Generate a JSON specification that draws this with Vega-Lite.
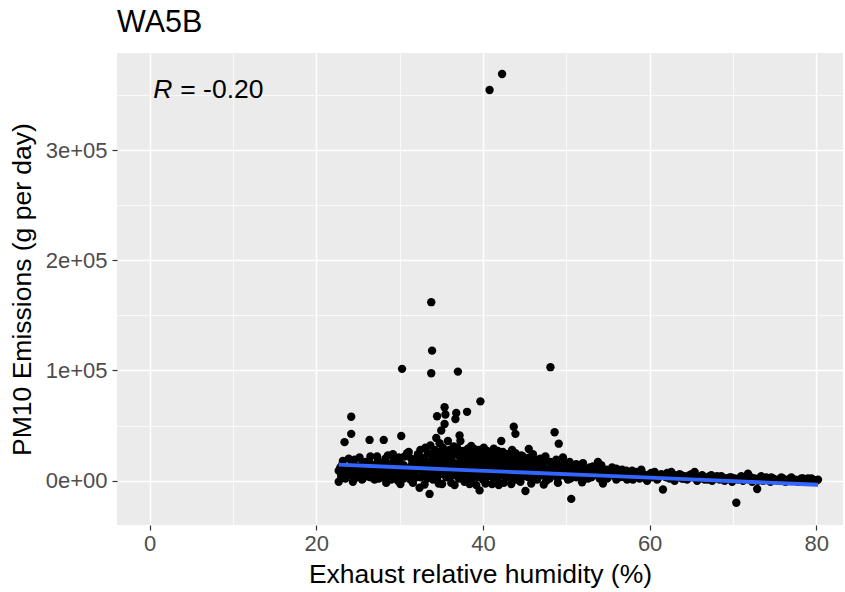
{
  "$schema": "https://vega.github.io/schema/vega-lite/v6.json",
  "autosize": "none",
  "width": 726,
  "height": 472,
  "padding": {"left": 117, "top": 53, "right": 2, "bottom": 67},
  "background": "white",
  "title": {"text": "WA5B", "anchor": "start", "frame": "group", "fontSize": 30.5, "font": "Liberation Sans", "fontWeight": "normal", "color": "#000000", "baseline": "bottom", "offset": 11, "dy": 26},
  "config": {
    "view": {"fill": "#EBEBEB", "stroke": null},
    "font": "Liberation Sans",
    "axis": {
      "domain": false,
      "gridColor": "#FFFFFF",
      "tickColor": "#333333",
      "tickWidth": 1.2,
      "tickSize": 5,
      "labelColor": "#4D4D4D",
      "labelFontSize": 22,
      "labelFont": "Liberation Sans",
      "titleFont": "Liberation Sans",
      "titleFontSize": 26.5,
      "titleFontWeight": "normal",
      "titleColor": "#000000"
    }
  },
  "datasets": {
    "pts": [
      {"h":22.7,"pm":9000},{"h":22.7,"pm":-1000},{"h":22.9,"pm":12000},{"h":23.1,"pm":14000},{"h":23.4,"pm":35000},{"h":23.5,"pm":8000},{"h":23.8,"pm":11000},{"h":24.0,"pm":5000},{"h":24.2,"pm":58000},{"h":24.2,"pm":42500},{"h":24.3,"pm":16000},{"h":24.4,"pm":-1000},{"h":24.5,"pm":7000},{"h":24.7,"pm":13000},{"h":24.9,"pm":3000},{"h":25.0,"pm":10000},{"h":25.3,"pm":6000},{"h":25.5,"pm":15000},{"h":25.6,"pm":2000},{"h":25.8,"pm":9000},{"h":26.0,"pm":12000},{"h":26.2,"pm":4000},{"h":26.4,"pm":37000},{"h":26.5,"pm":22000},{"h":26.7,"pm":8000},{"h":26.9,"pm":14000},{"h":27.0,"pm":1000},{"h":27.2,"pm":6000},{"h":27.4,"pm":18000},{"h":27.6,"pm":10000},{"h":27.8,"pm":3000},{"h":28.0,"pm":12000},{"h":28.1,"pm":37000},{"h":28.2,"pm":7000},{"h":28.3,"pm":20000},{"h":28.5,"pm":5000},{"h":28.7,"pm":15000},{"h":28.9,"pm":2000},{"h":29.0,"pm":9000},{"h":29.2,"pm":24000},{"h":29.4,"pm":6000},{"h":29.6,"pm":13000},{"h":29.8,"pm":0},{"h":30.0,"pm":17000},{"h":30.2,"pm":40600},{"h":30.3,"pm":101500},{"h":30.4,"pm":8000},{"h":30.6,"pm":22000},{"h":30.8,"pm":4000},{"h":31.0,"pm":11000},{"h":31.1,"pm":26000},{"h":31.3,"pm":1000},{"h":31.5,"pm":15000},{"h":31.7,"pm":7000},{"h":31.9,"pm":19000},{"h":32.0,"pm":3000},{"h":32.2,"pm":24000},{"h":32.3,"pm":10000},{"h":32.4,"pm":-6400},{"h":32.5,"pm":28000},{"h":32.7,"pm":14000},{"h":32.9,"pm":5000},{"h":33.0,"pm":20000},{"h":33.1,"pm":30000},{"h":33.2,"pm":9000},{"h":33.3,"pm":2000},{"h":33.4,"pm":25000},{"h":33.5,"pm":16000},{"h":33.6,"pm":-12000},{"h":33.6,"pm":7000},{"h":33.7,"pm":32000},{"h":33.8,"pm":162000},{"h":33.8,"pm":97500},{"h":33.9,"pm":118000},{"h":33.9,"pm":12000},{"h":34.0,"pm":22000},{"h":34.1,"pm":4000},{"h":34.2,"pm":28000},{"h":34.3,"pm":18000},{"h":34.4,"pm":38800},{"h":34.4,"pm":10000},{"h":34.5,"pm":58500},{"h":34.5,"pm":1000},{"h":34.6,"pm":26000},{"h":34.7,"pm":14000},{"h":34.8,"pm":34000},{"h":34.9,"pm":6000},{"h":35.0,"pm":45500},{"h":35.0,"pm":20000},{"h":35.1,"pm":-3000},{"h":35.2,"pm":30000},{"h":35.3,"pm":11000},{"h":35.4,"pm":66600},{"h":35.4,"pm":51500},{"h":35.5,"pm":60000},{"h":35.5,"pm":24000},{"h":35.6,"pm":3000},{"h":35.7,"pm":17000},{"h":35.8,"pm":36000},{"h":35.9,"pm":8000},{"h":36.0,"pm":28000},{"h":36.1,"pm":13000},{"h":36.2,"pm":-2000},{"h":36.3,"pm":22000},{"h":36.4,"pm":5000},{"h":36.5,"pm":31000},{"h":36.6,"pm":16000},{"h":36.7,"pm":56000},{"h":36.8,"pm":61500},{"h":36.8,"pm":9000},{"h":37.0,"pm":99000},{"h":37.0,"pm":25000},{"h":37.1,"pm":2000},{"h":37.2,"pm":41000},{"h":37.3,"pm":36000},{"h":37.3,"pm":14000},{"h":37.4,"pm":19000},{"h":37.5,"pm":7000},{"h":37.6,"pm":27000},{"h":37.7,"pm":11000},{"h":37.8,"pm":-1000},{"h":37.9,"pm":22000},{"h":38.0,"pm":4000},{"h":38.1,"pm":62500},{"h":38.1,"pm":17000},{"h":38.2,"pm":29000},{"h":38.3,"pm":8000},{"h":38.4,"pm":13000},{"h":38.5,"pm":24000},{"h":38.6,"pm":31500},{"h":38.6,"pm":1000},{"h":38.7,"pm":19000},{"h":38.8,"pm":6000},{"h":38.9,"pm":26000},{"h":39.0,"pm":10000},{"h":39.1,"pm":15000},{"h":39.2,"pm":-4000},{"h":39.3,"pm":21000},{"h":39.4,"pm":3000},{"h":39.5,"pm":28000},{"h":39.6,"pm":-8800},{"h":39.6,"pm":12000},{"h":39.7,"pm":72000},{"h":39.7,"pm":18000},{"h":39.8,"pm":6000},{"h":39.9,"pm":24000},{"h":40.0,"pm":9000},{"h":40.1,"pm":30000},{"h":40.2,"pm":14000},{"h":40.3,"pm":2000},{"h":40.4,"pm":20000},{"h":40.5,"pm":27000},{"h":40.6,"pm":7000},{"h":40.7,"pm":16000},{"h":40.8,"pm":354500},{"h":40.8,"pm":11000},{"h":40.9,"pm":23000},{"h":41.0,"pm":4000},{"h":41.1,"pm":-3000},{"h":41.2,"pm":19000},{"h":41.3,"pm":29000},{"h":41.4,"pm":8000},{"h":41.5,"pm":13000},{"h":41.6,"pm":25000},{"h":41.7,"pm":1000},{"h":41.8,"pm":17000},{"h":41.9,"pm":10000},{"h":42.0,"pm":22000},{"h":42.1,"pm":5000},{"h":42.2,"pm":36000},{"h":42.3,"pm":369000},{"h":42.3,"pm":14000},{"h":42.4,"pm":26000},{"h":42.5,"pm":-2000},{"h":42.6,"pm":9000},{"h":42.7,"pm":19000},{"h":42.8,"pm":3000},{"h":42.9,"pm":12000},{"h":43.0,"pm":24000},{"h":43.2,"pm":7000},{"h":43.3,"pm":16000},{"h":43.5,"pm":28000},{"h":43.6,"pm":2000},{"h":43.7,"pm":49000},{"h":43.8,"pm":11000},{"h":43.9,"pm":42500},{"h":44.0,"pm":20000},{"h":44.1,"pm":6000},{"h":44.3,"pm":15000},{"h":44.5,"pm":-1000},{"h":44.6,"pm":23000},{"h":44.8,"pm":9000},{"h":45.0,"pm":18000},{"h":45.1,"pm":-9400},{"h":45.2,"pm":4000},{"h":45.4,"pm":13000},{"h":45.5,"pm":28800},{"h":45.6,"pm":21000},{"h":45.8,"pm":7000},{"h":46.0,"pm":16000},{"h":46.2,"pm":2000},{"h":46.4,"pm":11000},{"h":46.6,"pm":19000},{"h":46.8,"pm":5000},{"h":47.0,"pm":14000},{"h":47.2,"pm":8000},{"h":47.5,"pm":18000},{"h":47.6,"pm":0},{"h":47.8,"pm":10000},{"h":48.0,"pm":4000},{"h":48.1,"pm":103000},{"h":48.2,"pm":13000},{"h":48.4,"pm":7000},{"h":48.6,"pm":44000},{"h":48.7,"pm":16000},{"h":48.9,"pm":3000},{"h":49.1,"pm":33600},{"h":49.1,"pm":9000},{"h":49.4,"pm":12000},{"h":49.6,"pm":5000},{"h":49.8,"pm":15000},{"h":50.0,"pm":8000},{"h":50.2,"pm":1000},{"h":50.4,"pm":11000},{"h":50.6,"pm":-16500},{"h":50.7,"pm":6000},{"h":51.0,"pm":13000},{"h":51.2,"pm":3000},{"h":51.5,"pm":9000},{"h":51.8,"pm":12000},{"h":52.0,"pm":5000},{"h":52.3,"pm":10000},{"h":52.6,"pm":2000},{"h":52.9,"pm":8000},{"h":53.2,"pm":13000},{"h":53.5,"pm":6000},{"h":53.8,"pm":17000},{"h":54.0,"pm":4000},{"h":54.3,"pm":11000},{"h":54.6,"pm":7000},{"h":54.9,"pm":2000},{"h":55.2,"pm":9000},{"h":55.5,"pm":12000},{"h":55.8,"pm":5000},{"h":56.1,"pm":8000},{"h":56.4,"pm":3000},{"h":56.7,"pm":10000},{"h":57.0,"pm":6000},{"h":57.3,"pm":1000},{"h":57.6,"pm":7000},{"h":57.9,"pm":9000},{"h":58.2,"pm":4000},{"h":58.5,"pm":6000},{"h":58.8,"pm":2000},{"h":59.1,"pm":7000},{"h":59.4,"pm":4000},{"h":59.7,"pm":0},{"h":60.0,"pm":6000},{"h":60.3,"pm":3000},{"h":60.6,"pm":8000},{"h":60.9,"pm":1000},{"h":61.2,"pm":5000},{"h":61.6,"pm":-8000},{"h":61.8,"pm":4000},{"h":62.1,"pm":7000},{"h":62.4,"pm":2000},{"h":62.7,"pm":5000},{"h":63.0,"pm":0},{"h":63.3,"pm":4000},{"h":63.6,"pm":6000},{"h":63.9,"pm":2000},{"h":64.2,"pm":4000},{"h":64.5,"pm":1000},{"h":64.8,"pm":5000},{"h":65.1,"pm":3000},{"h":65.4,"pm":8000},{"h":65.7,"pm":0},{"h":66.0,"pm":3000},{"h":66.3,"pm":5000},{"h":66.6,"pm":1000},{"h":66.9,"pm":3000},{"h":67.2,"pm":4000},{"h":67.5,"pm":0},{"h":67.8,"pm":2000},{"h":68.1,"pm":4000},{"h":68.4,"pm":1000},{"h":68.7,"pm":3000},{"h":69.0,"pm":0},{"h":69.3,"pm":2000},{"h":69.6,"pm":3000},{"h":69.9,"pm":-1000},{"h":70.2,"pm":2000},{"h":70.4,"pm":-20000},{"h":70.6,"pm":1000},{"h":70.9,"pm":3000},{"h":71.2,"pm":0},{"h":71.5,"pm":2000},{"h":71.8,"pm":6400},{"h":72.0,"pm":1000},{"h":72.3,"pm":-1000},{"h":72.6,"pm":2000},{"h":72.9,"pm":-7500},{"h":73.0,"pm":1000},{"h":73.3,"pm":3000},{"h":73.6,"pm":0},{"h":73.9,"pm":2000},{"h":74.2,"pm":1000},{"h":74.5,"pm":-1000},{"h":74.8,"pm":2000},{"h":75.1,"pm":1000},{"h":75.4,"pm":0},{"h":75.7,"pm":2000},{"h":76.0,"pm":1000},{"h":76.3,"pm":-1000},{"h":76.6,"pm":1000},{"h":76.9,"pm":2000},{"h":77.2,"pm":0},{"h":77.5,"pm":1000},{"h":77.8,"pm":-1000},{"h":78.1,"pm":1000},{"h":78.4,"pm":2000},{"h":78.7,"pm":0},{"h":79.0,"pm":1000},{"h":79.3,"pm":-1000},{"h":79.6,"pm":1000},{"h":79.9,"pm":0},{"h":80.2,"pm":1000},
      {"h":23.0,"pm":4000},{"h":23.5,"pm":2000},{"h":24.0,"pm":10000},{"h":24.5,"pm":3000},{"h":25.0,"pm":6000},{"h":25.5,"pm":1000},{"h":26.0,"pm":7000},{"h":26.5,"pm":3000},{"h":27.0,"pm":9000},{"h":27.5,"pm":2000},{"h":28.0,"pm":5000},{"h":28.5,"pm":9000},{"h":29.0,"pm":1000},{"h":29.5,"pm":4000},{"h":30.0,"pm":7000},{"h":30.5,"pm":2000},{"h":31.0,"pm":5000},{"h":31.5,"pm":9000},{"h":32.0,"pm":12000},{"h":32.5,"pm":3000},{"h":33.0,"pm":6000},{"h":33.5,"pm":11000},{"h":34.0,"pm":1000},{"h":34.5,"pm":5000},{"h":35.0,"pm":8000},{"h":35.5,"pm":13000},{"h":36.0,"pm":3000},{"h":36.5,"pm":7000},{"h":37.0,"pm":10000},{"h":37.5,"pm":2000},{"h":38.0,"pm":6000},{"h":38.5,"pm":11000},{"h":39.0,"pm":4000},{"h":39.5,"pm":8000},{"h":40.0,"pm":1000},{"h":40.5,"pm":5000},{"h":41.0,"pm":9000},{"h":41.5,"pm":3000},{"h":42.0,"pm":7000},{"h":42.5,"pm":12000},{"h":43.0,"pm":4000},{"h":43.5,"pm":8000},{"h":44.0,"pm":1000},{"h":44.5,"pm":5000},{"h":45.0,"pm":10000},{"h":45.5,"pm":3000},{"h":46.0,"pm":7000},{"h":46.5,"pm":1000},{"h":47.0,"pm":5000},{"h":47.5,"pm":9000},{"h":48.0,"pm":2000},{"h":48.5,"pm":6000},{"h":49.0,"pm":3000},{"h":49.5,"pm":8000},{"h":50.0,"pm":4000},{"h":50.5,"pm":2000},{"h":51.0,"pm":7000},{"h":51.5,"pm":4000},{"h":52.0,"pm":1000},{"h":52.5,"pm":6000},{"h":53.0,"pm":3000},{"h":53.5,"pm":9000},{"h":54.0,"pm":2000},{"h":54.5,"pm":5000},{"h":55.0,"pm":3000},{"h":55.5,"pm":6000},{"h":56.0,"pm":1000},{"h":56.5,"pm":4000},{"h":57.0,"pm":3000},{"h":57.5,"pm":5000},{"h":58.0,"pm":1000},{"h":58.5,"pm":3000},{"h":59.0,"pm":5000},{"h":59.5,"pm":2000},{"h":60.0,"pm":4000},{"h":61.0,"pm":2000},{"h":62.0,"pm":3000},{"h":63.0,"pm":5000},{"h":64.0,"pm":2000},{"h":65.0,"pm":4000},{"h":66.0,"pm":2000},{"h":67.0,"pm":1000},{"h":68.0,"pm":3000},{"h":69.0,"pm":2000},{"h":70.0,"pm":1000},{"h":71.0,"pm":3000},{"h":72.0,"pm":2000},{"h":73.0,"pm":0},{"h":74.0,"pm":3000},{"h":75.0,"pm":1000},{"h":76.0,"pm":2000},{"h":77.0,"pm":1000},{"h":78.0,"pm":0},{"h":79.0,"pm":2000},{"h":80.0,"pm":0},
      {"h":23.2,"pm":18000},{"h":23.9,"pm":20000},{"h":24.6,"pm":19000},{"h":25.2,"pm":21000},{"h":25.9,"pm":17000},{"h":26.6,"pm":15000},{"h":27.3,"pm":22000},{"h":27.9,"pm":16000},{"h":28.6,"pm":23000},{"h":29.3,"pm":18000},{"h":29.9,"pm":21000},{"h":30.5,"pm":14000},{"h":30.9,"pm":25000},{"h":31.4,"pm":20000},{"h":31.8,"pm":13000},{"h":32.1,"pm":17000},{"h":32.6,"pm":21000},{"h":32.8,"pm":9000},{"h":33.3,"pm":14000},{"h":33.9,"pm":19000},{"h":34.2,"pm":7000},{"h":34.6,"pm":22000},{"h":34.9,"pm":16000},{"h":35.2,"pm":26000},{"h":35.6,"pm":10000},{"h":35.9,"pm":21000},{"h":36.2,"pm":18000},{"h":36.4,"pm":25000},{"h":36.7,"pm":12000},{"h":36.9,"pm":30000},{"h":37.2,"pm":22000},{"h":37.5,"pm":16000},{"h":37.8,"pm":26000},{"h":38.1,"pm":10000},{"h":38.3,"pm":21000},{"h":38.6,"pm":15000},{"h":38.9,"pm":29000},{"h":39.2,"pm":19000},{"h":39.4,"pm":13000},{"h":39.7,"pm":25000},{"h":40.0,"pm":20000},{"h":40.2,"pm":27000},{"h":40.5,"pm":11000},{"h":40.7,"pm":23000},{"h":41.0,"pm":17000},{"h":41.3,"pm":21000},{"h":41.6,"pm":15000},{"h":41.8,"pm":27000},{"h":42.1,"pm":18000},{"h":42.4,"pm":10000},{"h":42.7,"pm":24000},{"h":43.0,"pm":16000},{"h":43.3,"pm":21000},{"h":43.6,"pm":13000},{"h":43.9,"pm":25000},{"h":44.2,"pm":18000},{"h":44.5,"pm":11000},{"h":44.8,"pm":22000},{"h":45.1,"pm":15000},{"h":45.4,"pm":20000},{"h":45.7,"pm":12000},{"h":46.0,"pm":24000},{"h":46.3,"pm":17000},{"h":46.6,"pm":9000},{"h":46.9,"pm":20000},{"h":47.2,"pm":13000},{"h":47.5,"pm":22000},{"h":47.8,"pm":6000},{"h":48.1,"pm":17000},{"h":48.4,"pm":11000},{"h":48.8,"pm":19000},{"h":49.2,"pm":14000},{"h":49.6,"pm":21000},{"h":50.0,"pm":12000},{"h":50.4,"pm":17000},{"h":50.8,"pm":9000},{"h":51.2,"pm":15000},{"h":51.6,"pm":11000},{"h":52.0,"pm":16000},{"h":52.4,"pm":8000},{"h":52.8,"pm":12000},{"h":53.2,"pm":5000},{"h":53.6,"pm":11000},{"h":54.2,"pm":14000},{"h":54.8,"pm":10000},{"h":55.4,"pm":7000},{"h":56.0,"pm":11000},{"h":56.6,"pm":6000},{"h":57.2,"pm":9000},{"h":57.8,"pm":4000},{"h":58.4,"pm":8000},{"h":59.0,"pm":10000},{"h":59.6,"pm":5000},{"h":60.2,"pm":7000},{"h":61.4,"pm":6000},{"h":62.6,"pm":8000},{"h":63.8,"pm":5000},{"h":65.0,"pm":6000},{"h":66.2,"pm":4000},{"h":67.4,"pm":5000},{"h":68.6,"pm":4000},{"h":69.8,"pm":3000},{"h":71.0,"pm":4000},{"h":72.2,"pm":3000},{"h":73.4,"pm":4000},{"h":74.6,"pm":3000},{"h":75.8,"pm":3000},{"h":77.0,"pm":3000},{"h":78.2,"pm":2000},{"h":79.4,"pm":2000},
      {"h":28.4,"pm":-2000},{"h":30.1,"pm":-3000},{"h":31.6,"pm":-2000},{"h":33.0,"pm":-3500},{"h":34.7,"pm":-2500},{"h":36.6,"pm":-4000},{"h":38.4,"pm":-3000},{"h":40.3,"pm":-2500},{"h":41.9,"pm":-4000},{"h":43.4,"pm":-3000},{"h":45.8,"pm":-2500},{"h":47.3,"pm":-3500},{"h":49.0,"pm":-2000},{"h":51.9,"pm":-1500},{"h":54.4,"pm":-2500}
    ],
    "fit": [
      {"h":22.7,"fit":14500,"lo":12700,"hi":16300},
      {"h":30,"fit":12190,"lo":11000,"hi":13380},
      {"h":38,"fit":9665,"lo":9000,"hi":10330},
      {"h":45,"fit":7453,"lo":6950,"hi":7950},
      {"h":55,"fit":4293,"lo":3500,"hi":5090},
      {"h":65,"fit":1133,"lo":-100,"hi":2370},
      {"h":80.2,"fit":-3670,"lo":-5650,"hi":-1690}
    ]
  },
  "layer": [
    {
      "data": {"name": "fit"},
      "mark": {"type": "area", "color": "#999999", "opacity": 0.4},
      "encoding": {
        "x": {"field": "h", "type": "quantitative", "scale": {"domain": [-3.9, 83.2], "nice": false, "zero": false},
          "axis": {"title": "Exhaust relative humidity (%)", "values": [0, 10, 20, 30, 40, 50, 60, 70, 80],
            "labelExpr": "datum.value % 20 === 0 ? datum.label : ''",
            "tickOpacity": {"condition": {"test": "datum.value % 20 === 0", "value": 1}, "value": 0},
            "gridWidth": {"condition": {"test": "datum.value % 20 === 0", "value": 1.5}, "value": 0.75},
            "labelPadding": 3, "titlePadding": 7}},
        "y": {"field": "lo", "type": "quantitative", "scale": {"domain": [-40200, 388100], "nice": false, "zero": false},
          "axis": {"title": "PM10 Emissions (g per day)", "values": [0, 50000, 100000, 150000, 200000, 250000, 300000, 350000],
            "labelExpr": "datum.value === 0 ? '0e+00' : (datum.value % 100000 === 0 ? format(datum.value / 100000, 'd') + 'e+05' : '')",
            "tickOpacity": {"condition": {"test": "datum.value % 100000 === 0", "value": 1}, "value": 0},
            "gridWidth": {"condition": {"test": "datum.value % 100000 === 0", "value": 1.5}, "value": 0.75},
            "labelPadding": 5, "titlePadding": 9}},
        "y2": {"field": "hi"}
      }
    },
    {
      "data": {"name": "pts"},
      "mark": {"type": "circle", "color": "#000000", "opacity": 1, "size": 70},
      "encoding": {
        "x": {"field": "h", "type": "quantitative"},
        "y": {"field": "pm", "type": "quantitative"}
      }
    },
    {
      "data": {"name": "fit"},
      "mark": {"type": "line", "color": "#3366FF", "strokeWidth": 3.8},
      "encoding": {
        "x": {"field": "h", "type": "quantitative"},
        "y": {"field": "fit", "type": "quantitative"}
      }
    },
    {
      "data": {"values": [{"t": "R"}]},
      "mark": {"type": "text", "align": "left", "baseline": "alphabetic", "fontSize": 26.5, "fontStyle": "italic", "font": "Liberation Sans", "color": "#000000"},
      "encoding": {
        "x": {"datum": 0.44, "type": "quantitative"},
        "y": {"datum": 347500, "type": "quantitative"},
        "text": {"field": "t"}
      }
    },
    {
      "data": {"values": [{"t": "= -0.20"}]},
      "mark": {"type": "text", "align": "left", "baseline": "alphabetic", "fontSize": 26.5, "font": "Liberation Sans", "color": "#000000"},
      "encoding": {
        "x": {"datum": 3.69, "type": "quantitative"},
        "y": {"datum": 347500, "type": "quantitative"},
        "text": {"field": "t"}
      }
    }
  ]
}
